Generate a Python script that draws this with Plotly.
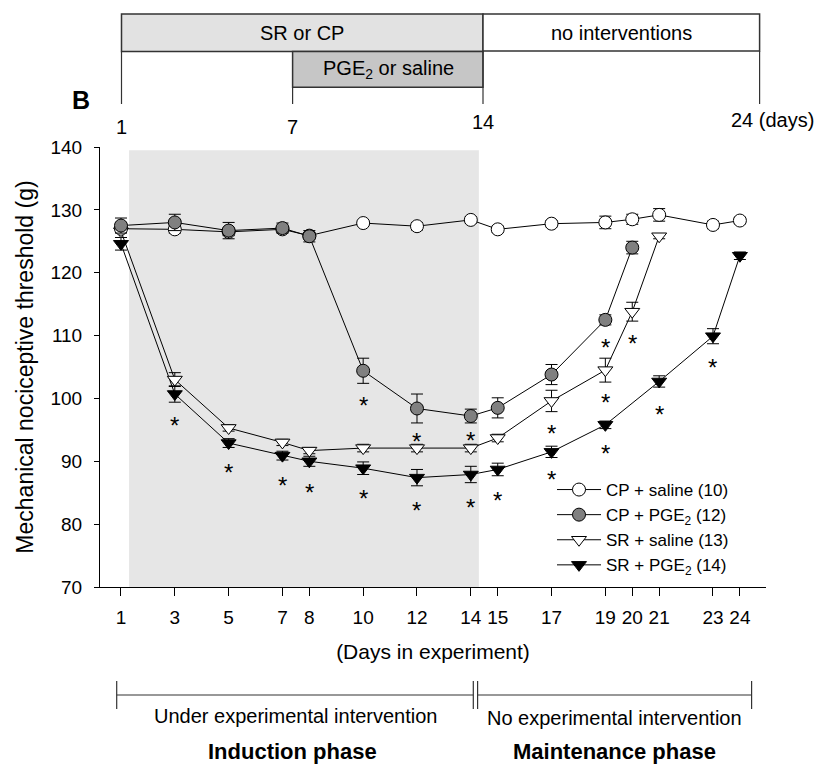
import plotly.graph_objects as go

# ---------------- data ----------------
days_cp_sal = [1, 3, 5, 7, 8, 10, 12, 14, 15, 17, 19, 20, 21, 23, 24]
cp_sal = [127.0, 126.9, 126.5, 126.9, 125.9, 127.9, 127.4, 128.4, 126.9, 127.8, 128.0, 128.5, 129.2, 127.6, 128.3]
cp_sal_err = [0.6, 0.6, 0.6, 0.5, 0.5, 0.4, 0.6, 0.5, 0.5, 0.5, 1.0, 0.8, 1.0, 0.6, 0.5]

days_cp_pge = [1, 3, 5, 7, 8, 10, 12, 14, 15, 17, 19, 20]
cp_pge = [127.5, 128.0, 126.7, 127.1, 125.8, 104.4, 98.4, 97.2, 98.5, 103.8, 112.5, 124.0]
cp_pge_err = [1.2, 1.3, 1.3, 0.8, 0.9, 2.0, 2.3, 1.1, 1.6, 1.6, 0.8, 1.0]

days_sr_sal = [1, 3, 5, 7, 8, 10, 12, 14, 15, 17, 19, 20, 21]
sr_sal = [126.6, 103.0, 95.3, 93.0, 91.7, 92.1, 92.1, 92.1, 93.7, 99.6, 104.5, 113.8, 125.8]
sr_sal_err = [1.0, 1.1, 0.5, 0.5, 0.5, 0.6, 0.6, 0.6, 0.6, 1.7, 1.9, 1.5, 0.4]

days_sr_pge = [1, 3, 5, 7, 8, 10, 12, 14, 15, 17, 19, 21, 23, 24]
sr_pge = [124.6, 100.7, 92.9, 90.9, 90.0, 88.9, 87.4, 87.9, 88.7, 91.5, 95.8, 102.7, 109.9, 122.7]
sr_pge_err = [1.0, 1.3, 0.7, 0.7, 0.8, 1.0, 1.3, 1.3, 1.0, 0.9, 0.6, 0.9, 1.2, 0.6]

star_days = [3, 5, 7, 8, 10, 10, 12, 12, 14, 14, 15, 17, 17, 19, 19, 19, 20, 21, 23]
star_vals = [96.8, 89.3, 87.3, 86.2, 85.2, 100.0, 83.3, 94.2, 83.8, 94.5, 84.9, 88.2, 95.5, 92.3, 100.5, 109.2, 109.8, 98.5, 106.0]

tick_days = [1, 3, 5, 7, 8, 10, 12, 14, 15, 17, 19, 20, 21, 23, 24]
y_ticks = [70, 80, 90, 100, 110, 120, 130, 140]

names = ["CP + saline (10)", "CP + PGE<sub>2</sub> (12)", "SR + saline (13)", "SR + PGE<sub>2</sub> (14)"]

FONT = "Liberation Sans, Arial, sans-serif"

# ---------------- layout geometry ----------------
# the page body adds an 8px margin, so the figure is 8px smaller and
# every reference pixel position is shifted by that offset
OFF = 8
W, H = 836 - OFF, 764 - OFF
L, R, T, B = 100 - OFF, 70, 147 - OFF, 177
PW, PH = W - L - R, H - T - B


def px(x):
    return (x - OFF - L) / PW


def py(y):
    return (H - B - (y - OFF)) / PH


fig = go.Figure()


def add_series(x, y, err, name, symbol, fill, rank):
    fig.add_trace(go.Scatter(
        x=x, y=y, name=name, mode="lines+markers",
        line=dict(color="black", width=1),
        marker=dict(symbol=symbol, size=13, color=fill, line=dict(color="black", width=1)),
        error_y=dict(type="data", array=err, visible=True, color="black", thickness=1, width=6),
        legendrank=rank,
    ))


add_series(days_sr_pge, sr_pge, sr_pge_err, names[3], "triangle-down", "black", 4)
add_series(days_sr_sal, sr_sal, sr_sal_err, names[2], "triangle-down", "white", 3)
add_series(days_cp_sal, cp_sal, cp_sal_err, names[0], "circle", "white", 1)
add_series(days_cp_pge, cp_pge, cp_pge_err, names[1], "circle", "#808080", 2)

shapes = []
# shaded induction period
shapes.append(dict(type="rect", xref="x", yref="y", x0=1.3, x1=14.3, y0=70, y1=139.5,
                   fillcolor="#e6e6e6", line=dict(width=0), layer="below"))

# top timeline boxes
box_line = dict(color="#333333", width=1.5)
shapes.append(dict(type="rect", xref="paper", yref="paper", x0=px(121.5), x1=px(483),
                   y0=py(51.5), y1=py(14), fillcolor="#e2e2e2", line=box_line))
shapes.append(dict(type="rect", xref="paper", yref="paper", x0=px(483), x1=px(759.6),
                   y0=py(51), y1=py(14), fillcolor="white", line=box_line))
shapes.append(dict(type="rect", xref="paper", yref="paper", x0=px(292.6), x1=px(483),
                   y0=py(87.3), y1=py(51.5), fillcolor="#c6c6c6", line=box_line))
for xx, y0 in [(121.5, 51.5), (292.6, 87.3), (483, 51.5), (759.6, 51)]:
    shapes.append(dict(type="line", xref="paper", yref="paper", x0=px(xx), x1=px(xx),
                       y0=py(y0), y1=py(104), line=dict(color="#333333", width=1.2)))

# bottom brackets
br = dict(color="#333333", width=1.2)
for x0, x1 in [(116.7, 473.3), (477.6, 751.6)]:
    shapes.append(dict(type="line", xref="paper", yref="paper", x0=px(x0), x1=px(x1),
                       y0=py(695), y1=py(695), line=br))
    for xx in (x0, x1):
        shapes.append(dict(type="line", xref="paper", yref="paper", x0=px(xx), x1=px(xx),
                           y0=py(681), y1=py(709), line=br))

ann = []


def text(x, y, s, size, bold=False, xanchor="center"):
    ann.append(dict(xref="paper", yref="paper", x=px(x), y=py(y), text=("<b>%s</b>" % s) if bold else s,
                    showarrow=False, xanchor=xanchor, yanchor="middle",
                    font=dict(family=FONT, size=size, color="black")))


text(302, 33, "SR or CP", 20)
text(621, 33, "no interventions", 20)
text(388, 70, "PGE<sub>2</sub> or saline", 20)
text(121.5, 127, "1", 20)
text(292, 127, "7", 20)
text(483, 122, "14", 20)
text(729, 120, "24 (days)", 20, xanchor="left")
text(81, 100, "B", 25, bold=True)
text(296, 716, "Under experimental intervention", 20)
text(614, 718, "No experimental intervention", 20)
text(292, 751, "Induction phase", 22, bold=True)
text(614, 751, "Maintenance phase", 22, bold=True)

for d, v in zip(star_days, star_vals):
    ann.append(dict(xref="x", yref="y", x=d, y=v, text="*", showarrow=False,
                    xanchor="center", yanchor="middle", yshift=-7,
                    font=dict(family=FONT, size=24, color="black")))

fig.update_layout(
    width=W, height=H,
    margin=dict(l=L, r=R, t=T, b=B, pad=0),
    paper_bgcolor="white", plot_bgcolor="white",
    font=dict(family=FONT, size=18, color="black"),
    shapes=shapes, annotations=ann,
    showlegend=True,
    legend=dict(x=px(552), y=py(472), xanchor="left", yanchor="top",
                bgcolor="rgba(0,0,0,0)", font=dict(family=FONT, size=17),
                itemwidth=44, tracegroupgap=2),
    xaxis=dict(range=[0.22, 24.97], tickmode="array", tickvals=tick_days,
               ticktext=[str(t) for t in tick_days],
               showline=True, linecolor="black", linewidth=1,
               ticks="outside", ticklen=8, tickcolor="black", tickwidth=1,
               showgrid=False, zeroline=False, ticklabelstandoff=5,
               tickfont=dict(size=19),
               title=dict(text="(Days in experiment)", font=dict(size=21), standoff=17)),
    yaxis=dict(range=[70, 140], tickmode="array", tickvals=y_ticks,
               showline=True, linecolor="black", linewidth=1,
               ticks="outside", ticklen=5, tickcolor="black", tickwidth=1,
               showgrid=False, zeroline=False, ticklabelstandoff=8,
               tickfont=dict(size=19),
               title=dict(text="Mechanical nociceptive threshold (g)", font=dict(size=23), standoff=10)),
)

fig.write_html("out.html")
